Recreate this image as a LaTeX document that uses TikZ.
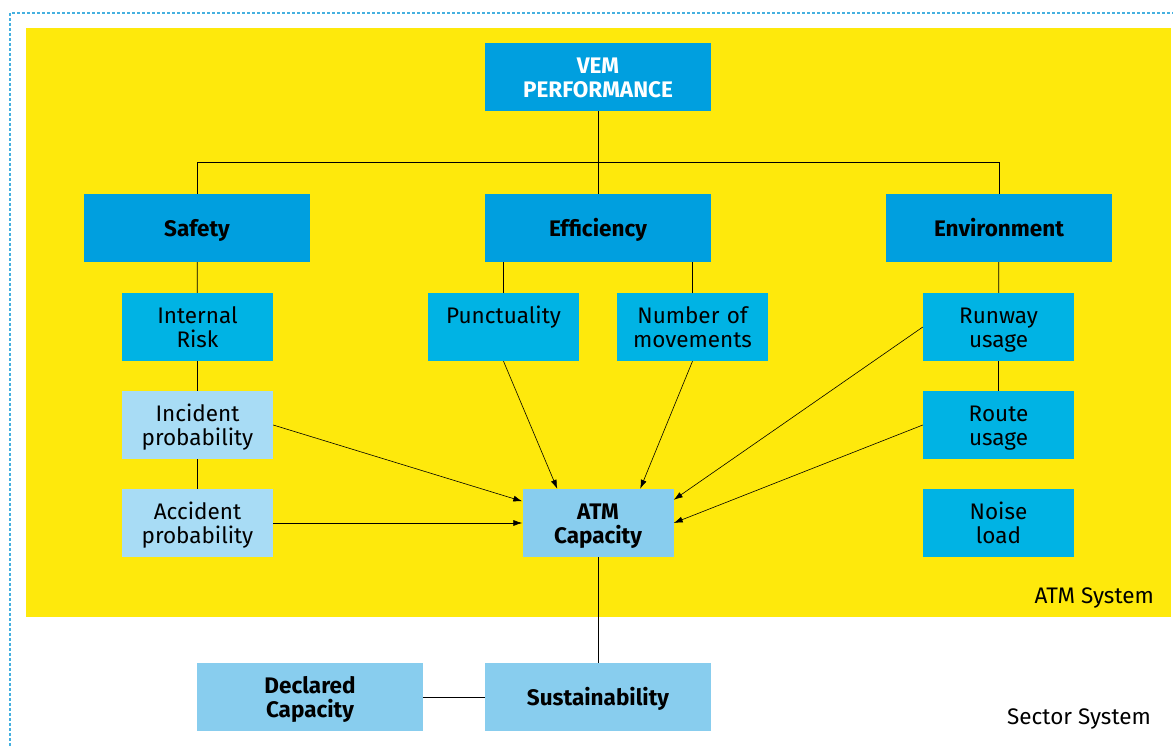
\documentclass[tikz,border=0pt]{standalone}
\usepackage{fontspec}
\setmainfont{Fira Sans}
\usetikzlibrary{arrows.meta}
\definecolor{vemyellow}{HTML}{FEE90C}
\definecolor{topblue}{HTML}{009FDF}
\definecolor{midblue}{HTML}{00B3E4}
\definecolor{paleblue}{HTML}{A8DCF5}
\definecolor{capblue}{HTML}{88CDEE}
\definecolor{frameblue}{HTML}{45B0E0}
\begin{document}
\begin{tikzpicture} [x=1pt, y=-1pt]

      \tikzstyle{wide_box} = [rectangle, minimum width=226pt, minimum height=68pt, inner sep=0pt, text width=222pt, align=center, font=\fontsize{22.5}{24}\selectfont, execute at begin node={\rule{0pt}{25pt}}, execute at end node={\strut}]
        \tikzstyle{small_box} = [rectangle, minimum width=151pt, minimum height=68pt, inner sep=0pt, text width=149pt, align=center, font=\fontsize{22.5}{24}\selectfont, execute at begin node={\rule{0pt}{25pt}}, execute at end node={\strut}]
            \tikzstyle{sys_label} = [anchor=base east, inner sep=0pt, font=\fontsize{22.5}{24}\selectfont]

      \useasboundingbox (0,0) rectangle (1173,746);
      \draw[frameblue, line width=1.2pt, dash pattern=on 3pt off 2pt] (10,746) -- (10,13) -- (1173,13);
      \fill[vemyellow] (26,28) rectangle (1171,617);

            \draw
              (598.0, 77.0) node[fill=topblue, text=white, wide_box, font=\fontsize{22.5}{24}\selectfont\bfseries] (0){VEM\\PERFORMANCE}
              (197.0, 228.0) node[fill=topblue, wide_box, font=\fontsize{22.5}{24}\selectfont\bfseries] (1){Safety}
              (598.0, 228.0) node[fill=topblue, wide_box, font=\fontsize{22.5}{24}\selectfont\bfseries] (2){Efficiency}
              (999.0, 228.0) node[fill=topblue, wide_box, font=\fontsize{22.5}{24}\selectfont\bfseries] (3){Environment}
              (197.5, 327.0) node[fill=midblue, small_box] (4){Internal\\Risk}
              (503.5, 327.0) node[fill=midblue, small_box] (5){Punctuality\\\mbox{}}
              (692.5, 327.0) node[fill=midblue, small_box] (6){Number of\\movements}
              (998.5, 327.0) node[fill=midblue, small_box] (7){Runway\\usage}
              (197.5, 425.0) node[fill=paleblue, small_box] (8){Incident\\probability}
              (998.5, 425.0) node[fill=midblue, small_box] (9){Route\\usage}
              (197.5, 523.0) node[fill=paleblue, small_box] (10){Accident\\probability}
              (598.0, 523.0) node[fill=capblue, small_box, font=\fontsize{22.5}{24}\selectfont\bfseries] (11){ATM\\Capacity}
              (998.5, 523.0) node[fill=midblue, small_box] (12){Noise\\load}
              (310.0, 697.0) node[fill=capblue, wide_box, font=\fontsize{22.5}{24}\selectfont\bfseries] (13){Declared\\Capacity}
              (598.0, 697.0) node[fill=capblue, wide_box, font=\fontsize{22.5}{24}\selectfont\bfseries] (14){Sustainability}
              (1154.0, 603.0) node[sys_label] (15){ATM System}
              (1151.0, 724.0) node[sys_label] (16){Sector System};

      \begin{scope}[-, line width=0.8pt]
        \draw (0) -- (2);
        \draw (1.north) -- ++(0,-31) -| (3.north);
        \draw (1) -- (4);
        \draw (4) -- (8);
        \draw (8) -- (10);
        \draw (5.north) -- (5.north |- 2.south);
        \draw (6.north) -- (6.north |- 2.south);
        \draw (3) -- (7);
        \draw (7) -- (9);
        \draw (11) -- (14);
        \draw (13) -- (14);
      \end{scope}
      \begin{scope}[-{Latex[length=9pt, width=6pt]}, line width=0.6pt]
        \draw (8.east) -- (11.164);
        \draw (10.east) -- (11.west);
        \draw (5.south) -- (11.140);
        \draw (6.south) -- (11.39);
        \draw (7.west) -- (11.17);
        \draw (9.west) -- (11.east);
      \end{scope}
    \end{tikzpicture}
\end{document}
